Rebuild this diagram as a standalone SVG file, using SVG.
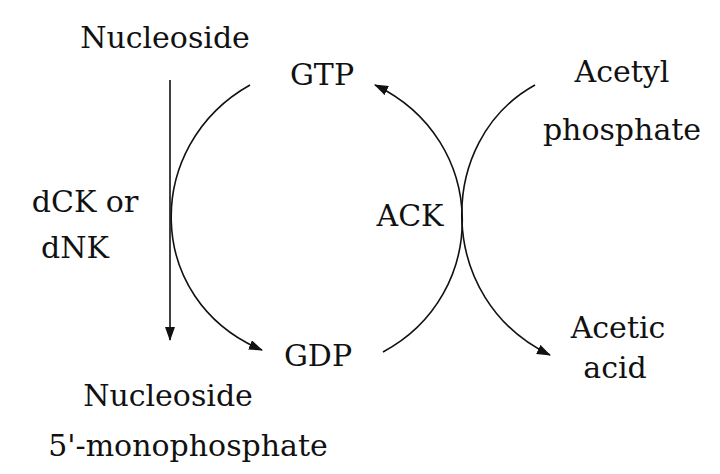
<svg xmlns="http://www.w3.org/2000/svg" width="720" height="474" viewBox="0 0 720 474">
<style>
text{font-family:"DejaVu Serif","Liberation Serif",serif;font-size:30px;fill:#111;text-anchor:middle}
.c{fill:none;stroke:#111;stroke-width:1.6}
</style>
<defs>
<marker id="a" markerWidth="14" markerHeight="10" refX="13" refY="5" orient="auto" markerUnits="userSpaceOnUse">
<path d="M0,0 L14,5 L0,10 Z" fill="#111"/>
</marker>
</defs>
<rect width="720" height="474" fill="#fff"/>
<g id="connectors">
<path class="c" d="M170,80 L170,340" marker-end="url(#a)"/>
<path class="c" d="M250,85 C143,145 143,300 262,350" marker-end="url(#a)"/>
<path class="c" d="M383,352 C490,295 490,140 375,85" marker-end="url(#a)"/>
<path class="c" d="M535,85 C435,140 435,300 550,355" marker-end="url(#a)"/>
</g>
<g id="nucleoside"><text x="165" y="48">Nucleoside</text></g>
<g id="gtp"><text x="322" y="85">GTP</text></g>
<g id="acetylphosphate"><text x="622" y="82">Acetyl</text><text x="622" y="140">phosphate</text></g>
<g id="dck"><text x="85" y="212">dCK or</text><text x="75" y="258">dNK</text></g>
<g id="ack"><text x="410" y="226">ACK</text></g>
<g id="aceticacid"><text x="618" y="338">Acetic</text><text x="615" y="378">acid</text></g>
<g id="gdp"><text x="318" y="366">GDP</text></g>
<g id="nmp"><text x="168" y="406">Nucleoside</text><text x="188" y="456">5'-monophosphate</text></g>
</svg>
